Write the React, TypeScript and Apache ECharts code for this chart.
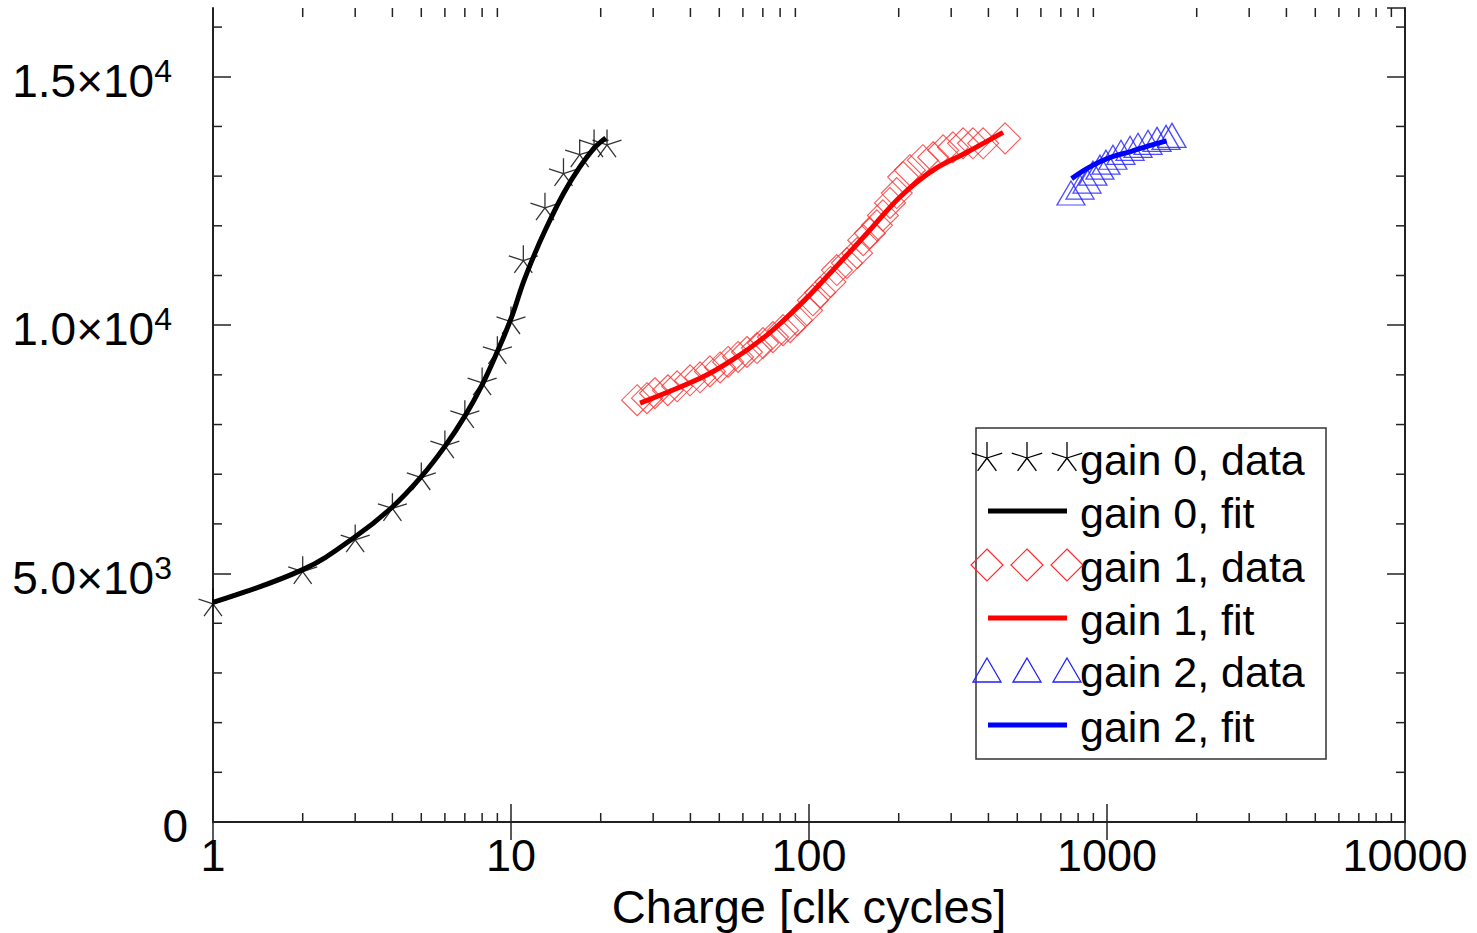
import React, { useEffect, useRef } from 'react';
import * as echarts from 'echarts';

const FONT = '"Liberation Sans", Arial, Helvetica, sans-serif';
const Y_MAX = 16384;

const xTickValues = [1, 10, 100, 1000, 10000];
const xTickLabels = ['1', '10', '100', '1000', '10000'];
const xMinorTicks = [
  2, 3, 4, 5, 6, 7, 8, 9,
  20, 30, 40, 50, 60, 70, 80, 90,
  200, 300, 400, 500, 600, 700, 800, 900,
  2000, 3000, 4000, 5000, 6000, 7000, 8000, 9000,
];
const yTickValues = [0, 5000, 10000, 15000];
const yTickMantissa = ['0', '5.0×10', '1.0×10', '1.5×10'];
const yTickExponent = ['', '3', '4', '4'];
const yMinorTicks = [1000, 2000, 3000, 4000, 6000, 7000, 8000, 9000, 11000, 12000, 13000, 14000, 16000];

const gain0Data = [
  [1, 4420], [2, 5070], [3, 5710], [4, 6340], [5, 6960], [6, 7600], [7, 8210], [8, 8870],
  [9, 9500], [10, 10100], [11, 11330], [13, 12390], [15, 13080], [17, 13460], [19, 13660], [21, 13660],
];
const gain0Fit = [
  [1, 4420], [2, 5080], [3, 5740], [4, 6340], [5, 6950], [6, 7560], [7, 8170], [8, 8800],
  [9, 9470], [10, 10130], [11, 10860], [12, 11430], [13, 11900], [15, 12650], [17, 13180], [19, 13560], [20.8, 13770],
];
const gain1Data = [
  [26.5, 8490], [28.6, 8530], [30.4, 8630], [33.6, 8690], [36.1, 8770], [39.9, 8890], [43.1, 8950],
  [46.5, 9070], [50.3, 9150], [53.5, 9260], [57.8, 9360], [61.9, 9460], [66.9, 9540], [70.1, 9640],
  [75.7, 9760], [81.8, 9900], [86.4, 9960], [91.1, 10100], [98.5, 10300], [103, 10500], [109, 10660],
  [118, 10870], [124, 11110], [134, 11250], [145, 11450], [152, 11710], [160, 11850], [169, 12010],
  [177, 12210], [187, 12460], [197, 12660], [207, 12980], [218, 13120], [241, 13320], [261, 13380],
  [282, 13520], [304, 13580], [329, 13660], [355, 13660], [384, 13660], [455, 13760],
];
const gain1Fit = [
  [27.1, 8430], [43.1, 8930], [55.3, 9300], [72.2, 9800], [93, 10400], [120.4, 11110],
  [156.6, 11850], [202, 12580], [261, 13120], [339, 13480], [448, 13880],
];
const gain2Data = [
  [757, 12660], [812, 12780], [857, 12900], [897, 13060], [947, 13180], [992, 13280], [1047, 13380],
  [1114, 13480], [1195, 13560], [1271, 13620], [1373, 13680], [1472, 13740], [1578, 13780], [1652, 13820],
];
const gain2Fit = [
  [761, 12950], [850, 13140], [947, 13290], [1050, 13400], [1195, 13490], [1380, 13610], [1586, 13710],
];

const legendLabels = ['gain 0, data', 'gain 0, fit', 'gain 1, data', 'gain 1, fit', 'gain 2, data', 'gain 2, fit'];
const legendKinds = ['star', 'line', 'diamond', 'line', 'triangle', 'line'];
const legendColors = ['#000000', '#000000', '#ff2a2a', '#ff0000', '#2020ff', '#0000ff'];

const STAR_PATH = 'path://M0 0L0 -10M0 0L9.51 -3.09M0 0L5.88 8.09M0 0L-5.88 8.09M0 0L-9.51 -3.09';

function buildLegend(): any[] {
  const els: any[] = [];
  const left = 976, top = 428, w = 350, h = 331;
  els.push({
    type: 'rect', z: 100, shape: { x: left, y: top, width: w, height: h },
    style: { fill: '#ffffff', stroke: '#333333', lineWidth: 1.5 },
  });
  const rowY = [458, 511, 565, 618, 670, 725];
  const symX = [987, 1027, 1067];
  legendLabels.forEach((label, i) => {
    const y = rowY[i];
    const kind = legendKinds[i];
    const color = legendColors[i];
    if (kind === 'line') {
      els.push({
        type: 'line', z: 101, shape: { x1: 988, y1: y, x2: 1067, y2: y },
        style: { stroke: color, lineWidth: 5 },
      });
    } else {
      symX.forEach((cx) => {
        if (kind === 'star') {
          const R = 16;
          const ang = [-90, -18, 54, 126, 198];
          ang.forEach((a) => {
            const r = (a * Math.PI) / 180;
            els.push({
              type: 'line', z: 101,
              shape: { x1: cx, y1: y, x2: cx + R * Math.cos(r), y2: y + R * Math.sin(r) },
              style: { stroke: color, lineWidth: 1.3 },
            });
          });
        } else if (kind === 'diamond') {
          els.push({
            type: 'polygon', z: 101,
            shape: { points: [[cx, y - 16], [cx + 16, y], [cx, y + 16], [cx - 16, y]] },
            style: { fill: 'none', stroke: color, lineWidth: 1.2 },
          });
        } else {
          els.push({
            type: 'polygon', z: 101,
            shape: { points: [[cx, y - 12], [cx + 14, y + 12], [cx - 14, y + 12]] },
            style: { fill: 'none', stroke: color, lineWidth: 1.3 },
          });
        }
      });
    }
    els.push({
      type: 'text', z: 102, x: 1080, y: y + 2,
      style: {
        text: label, fill: '#000000', fontSize: 43, fontFamily: FONT,
        align: 'left', verticalAlign: 'middle',
      },
    });
  });
  return els;
}

export default function App() {
  const ref = useRef<HTMLDivElement>(null);
  useEffect(() => {
    if (!ref.current) return;
    const chart = echarts.init(ref.current, null, { renderer: 'svg' });
    const axisColor = '#222222';
    const option: any = {
      animation: false,
      backgroundColor: '#ffffff',
      grid: { left: 213, top: 8, right: 72, bottom: 111, containLabel: false, outerBoundsMode: 'none' },
      xAxis: [
        {
          type: 'log', logBase: 10, min: 1, max: 10000, position: 'bottom',
          axisLine: { show: true, lineStyle: { color: axisColor, width: 2 } },
          axisTick: { show: true, inside: true, length: 18, lineStyle: { color: axisColor, width: 1.5 } },
          splitLine: { show: false },
          axisLabel: {
            show: true, margin: 13, color: '#000', fontSize: 45, fontFamily: FONT, lineHeight: 40,
            formatter: (v: number) => {
              const i = xTickValues.findIndex((t) => Math.abs(t - v) / t < 1e-6);
              return i >= 0 ? xTickLabels[i] : '';
            },
          },
          name: 'Charge [clk cycles]', nameLocation: 'middle', nameGap: 62, nameMoveOverlap: false,
          nameTextStyle: { color: '#000', fontSize: 47, fontFamily: FONT, lineHeight: 44 },
        },
        {
          type: 'log', logBase: 10, min: 1, max: 10000, position: 'top',
          axisLine: { show: true, lineStyle: { color: axisColor, width: 2 } },
          axisTick: { show: true, inside: true, length: 18, lineStyle: { color: axisColor, width: 1.5 } },
          splitLine: { show: false },
          axisLabel: { show: false },
        },
      ],
      yAxis: [
        {
          type: 'value', min: 0, max: Y_MAX, interval: 5000, position: 'left',
          axisLine: { show: true, lineStyle: { color: axisColor, width: 2 } },
          axisTick: { show: true, inside: true, length: 18, lineStyle: { color: axisColor, width: 1.5 } },
          splitLine: { show: false },
          axisLabel: {
            show: true, showMaxLabel: false, margin: 25, color: '#000', fontSize: 46, fontFamily: FONT,
            padding: [8, 0, 0, 0],
            formatter: (v: number) => {
              const i = yTickValues.indexOf(v);
              if (i < 0) return '';
              return yTickExponent[i]
                ? `{b|${yTickMantissa[i]}}{s|${yTickExponent[i]}}`
                : `{b|${yTickMantissa[i]}}`;
            },
            rich: {
              b: { fontSize: 46, fontFamily: FONT, color: '#000', lineHeight: 52 },
              s: {
                fontSize: 32, fontFamily: FONT, color: '#000', verticalAlign: 'top', lineHeight: 24,
                padding: [0, 16, 0, 0],
              },
            },
          },
        },
        {
          type: 'value', min: 0, max: Y_MAX, interval: 5000, position: 'right',
          axisLine: { show: true, lineStyle: { color: axisColor, width: 2 } },
          axisTick: { show: true, inside: true, length: 18, lineStyle: { color: axisColor, width: 1.5 } },
          splitLine: { show: false },
          axisLabel: { show: false },
        },
      ],
      series: [
        {
          type: 'custom', silent: true, xAxisIndex: 0, yAxisIndex: 0, clip: false,
          encode: { x: 0, y: 1 },
          data: xMinorTicks.map((v) => [v, 0]),
          renderItem: (_p: any, api: any) => {
            const v = api.value(0);
            const b = api.coord([v, 0]);
            const t = api.coord([v, Y_MAX]);
            return {
              type: 'group',
              children: [
                { type: 'line', shape: { x1: b[0], y1: b[1], x2: b[0], y2: b[1] - 9 }, style: { stroke: axisColor, lineWidth: 1.5 } },
                { type: 'line', shape: { x1: t[0], y1: t[1], x2: t[0], y2: t[1] + 9 }, style: { stroke: axisColor, lineWidth: 1.5 } },
              ],
            };
          },
        },
        {
          type: 'custom', silent: true, xAxisIndex: 0, yAxisIndex: 0, clip: false,
          encode: { x: 0, y: 1 },
          data: yMinorTicks.map((v) => [1, v]),
          renderItem: (_p: any, api: any) => {
            const v = api.value(1);
            const l = api.coord([1, v]);
            const r = api.coord([10000, v]);
            return {
              type: 'group',
              children: [
                { type: 'line', shape: { x1: l[0], y1: l[1], x2: l[0] + 9, y2: l[1] }, style: { stroke: axisColor, lineWidth: 1.5 } },
                { type: 'line', shape: { x1: r[0], y1: r[1], x2: r[0] - 9, y2: r[1] }, style: { stroke: axisColor, lineWidth: 1.5 } },
              ],
            };
          },
        },
        {
          name: 'gain 0, data', type: 'scatter', data: gain0Data,
          symbol: STAR_PATH, symbolSize: 29, symbolKeepAspect: true,
          itemStyle: { color: 'rgba(0,0,0,0)', borderColor: '#000000', borderWidth: 1.3 },
        },
        {
          name: 'gain 1, data', type: 'scatter', data: gain1Data,
          symbol: 'diamond', symbolSize: 31,
          itemStyle: { color: 'rgba(0,0,0,0)', borderColor: '#ff2a2a', borderWidth: 1.1 },
        },
        {
          name: 'gain 2, data', type: 'scatter', data: gain2Data,
          symbol: 'triangle', symbolSize: [28, 24],
          itemStyle: { color: 'rgba(0,0,0,0)', borderColor: '#2020ff', borderWidth: 1.3 },
        },
        {
          name: 'gain 0, fit', type: 'line', data: gain0Fit, smooth: 0.4, showSymbol: false,
          lineStyle: { color: '#000000', width: 5 },
        },
        {
          name: 'gain 1, fit', type: 'line', data: gain1Fit, smooth: 0.35, showSymbol: false,
          lineStyle: { color: '#ff0000', width: 5 },
        },
        {
          name: 'gain 2, fit', type: 'line', data: gain2Fit, smooth: 0.35, showSymbol: false,
          lineStyle: { color: '#0000ff', width: 5 },
        },
      ],
      graphic: buildLegend(),
    };
    chart.setOption(option);
    return () => chart.dispose();
  }, []);
  return (
    <div
      ref={ref}
      style={{ position: 'fixed', left: 0, top: 0, width: 1477, height: 933, background: '#fff' }}
    />
  );
}
